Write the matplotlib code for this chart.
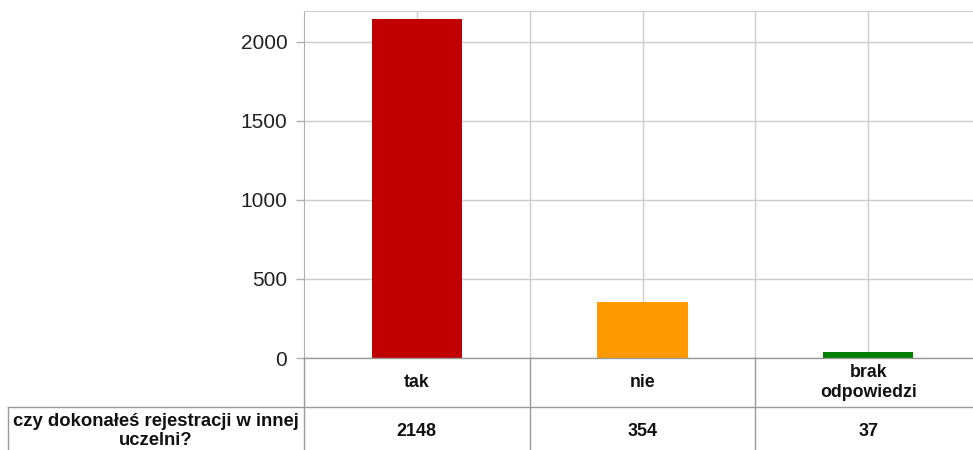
import matplotlib
matplotlib.use("Agg")
import matplotlib.pyplot as plt
import matplotlib.transforms as mtransforms

# data
categories = ["tak", "nie", "brak\nodpowiedzi"]
values = [2148, 354, 37]
colors = ["#C00000", "#FF9900", "#008000"]
question = "czy dokonałeś rejestracji w innej\nuczelni?"
yticks = [0, 500, 1000, 1500, 2000]

plt.rcParams["font.family"] = ["Liberation Sans", "DejaVu Sans"]

W, H = 973, 450
fig = plt.figure(figsize=(W / 100, H / 100), dpi=100)

# plot area in pixels: left 304, top 11, y=0 at 358, category width ~225.5
left, top, bottom, right = 304, 11, 358, 981
ax = fig.add_axes([left / W, (H - bottom) / H, (right - left) / W, (bottom - top) / H])

x = list(range(len(categories)))
ax.bar(x, values, width=0.4, color=colors, zorder=3)

ax.set_xlim(-0.5, len(categories) - 0.5)
ax.set_ylim(0, 2196)
ax.set_yticks(yticks)
ax.set_yticklabels([str(v) for v in yticks], fontsize=15, color="#222222")
ax.set_xticks(x)
ax.set_xticks([i + 0.5 for i in x[:-1]], minor=True)
ax.tick_params(axis="x", which="both", length=0, labelbottom=False)
ax.tick_params(axis="y", length=6, width=1, color="#b0b0b0", pad=6)

grid_col = "#cccccc"
ax.grid(True, which="both", color=grid_col, linewidth=1, zorder=0)
for s in ["top", "right"]:
    ax.spines[s].set_color(grid_col)
ax.spines["left"].set_color("#b0b0b0")
ax.spines["bottom"].set_visible(False)

# data table below the plot
line_col = "#999999"
row_h = 49 / (bottom - top)  # row height in axes fraction
trans = mtransforms.blended_transform_factory(ax.transData, ax.transAxes)
ax.axhline(0, color=line_col, linewidth=1, zorder=4, clip_on=False)
for b in [-0.5, 0.5, 1.5]:
    ax.plot([b, b], [0, -2.2 * row_h], transform=trans, color=line_col,
            linewidth=1, clip_on=False)
ax.plot([-0.5, 2.5], [-row_h, -row_h], transform=trans, color=line_col,
        linewidth=1, clip_on=False)

# header cell from x=8px to the plot's left edge
hx0 = 8 / W
hy = (H - 407) / H
fig.add_artist(plt.Line2D([hx0, left / W], [hy, hy], color=line_col, linewidth=1))
fig.add_artist(plt.Line2D([hx0, hx0], [hy, -0.05], color=line_col, linewidth=1))
fig.text((hx0 + left / W) / 2, (H - 431) / H, question, ha="center", va="center",
         fontsize=13.3, fontweight="bold", linespacing=1.12, color="#111111")

for i, (c, v) in enumerate(zip(categories, values)):
    ax.text(i, -row_h / 2, c, transform=trans, ha="center", va="center",
            fontsize=12.8, fontweight="bold", linespacing=1.3, color="#111111")
    ax.text(i, -row_h * 1.5, str(v), transform=trans, ha="center", va="center",
            fontsize=13, fontweight="bold", color="#111111")

fig.savefig("out.png", dpi=100)
